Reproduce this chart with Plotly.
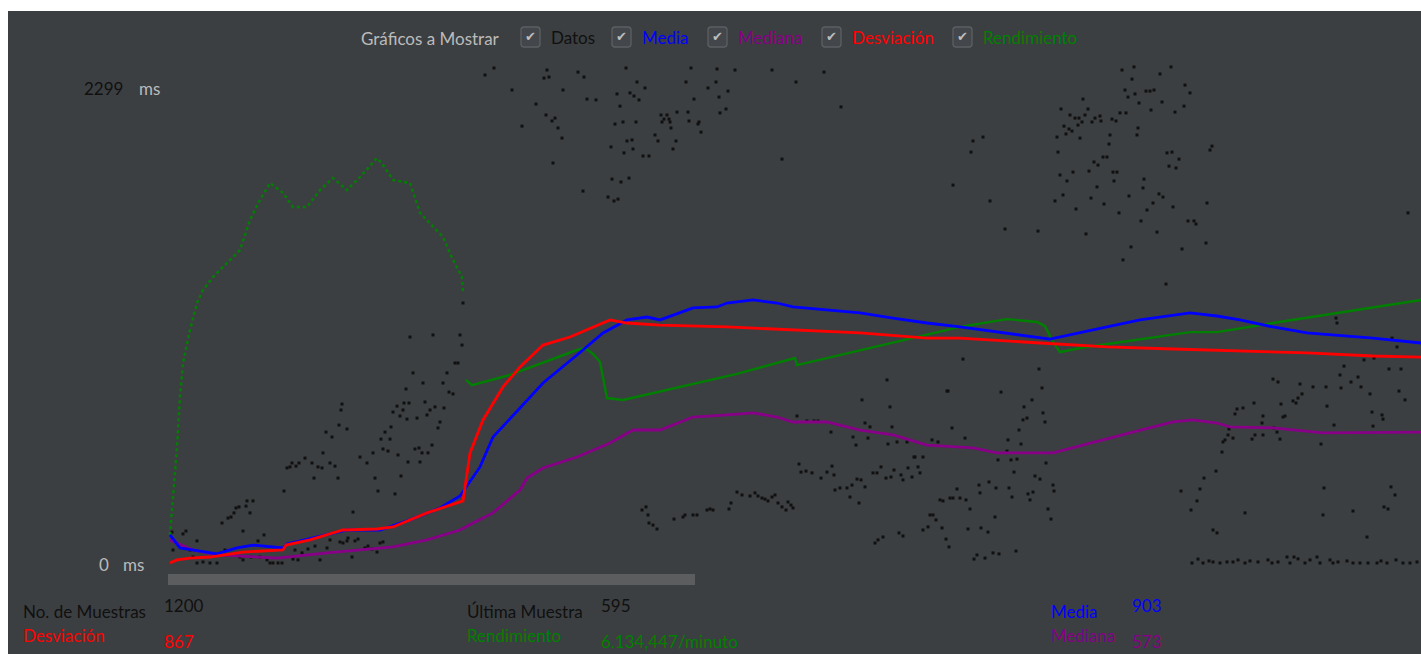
import plotly.graph_objects as go

W, H = 1421, 654
PL, PT = 8, 11          # offset of the dark panel inside the page

# ---------------- data (sample number, milliseconds) ----------------
media_muestra = [2, 12, 49, 69, 85, 102, 115, 119, 145, 179, 212, 242, 272, 292, 312, 325, 352, 375,
                 409, 435, 459, 479, 492, 525, 549, 559, 585, 609, 625, 659, 692, 725, 759, 792, 839,
                 882, 939, 972, 1022, 1049, 1072, 1105, 1139, 1205, 1253]
media_ms = [136, 73, 44, 73, 87, 78, 73, 92, 121, 160, 160, 209, 267, 325, 466, 611, 752, 873,
            1009, 1116, 1179, 1193, 1179, 1237, 1242, 1261, 1276, 1261, 1242, 1227, 1213, 1188, 1164,
            1145, 1116, 1086, 1145, 1179, 1213, 1198, 1179, 1145, 1116, 1091, 1067]

desv_muestra = [2, 9, 22, 42, 75, 115, 118, 142, 175, 209, 225, 259, 295, 302, 315, 335, 352, 375,
                402, 425, 442, 459, 492, 559, 625, 692, 759, 792, 872, 939, 1005, 1072, 1139, 1205, 1253]
desv_ms = [0, 15, 24, 29, 53, 63, 87, 112, 160, 165, 175, 243, 301, 534, 694, 854, 951, 1057,
           1096, 1145, 1179, 1164, 1154, 1145, 1130, 1116, 1091, 1091, 1067, 1048, 1038, 1028, 1019, 1004, 999]

mediana_muestra = [2, 25, 49, 92, 109, 159, 192, 225, 259, 292, 305, 325, 352, 359, 375, 409, 442, 465,
                   492, 525, 559, 585, 609, 625, 659, 692, 725, 759, 805, 829, 885, 922, 962, 1005, 1025,
                   1049, 1062, 1105, 1155, 1253]
mediana_ms = [112, 63, 39, 29, 24, 49, 63, 78, 112, 160, 194, 243, 354, 412, 461, 514, 582, 645,
              645, 708, 718, 728, 708, 684, 684, 645, 621, 572, 558, 534, 534, 582, 631, 684, 694,
              679, 660, 655, 631, 635]

# throughput: first phase (dotted in the original) and the rest of the run
rend1_muestra = [2, 5, 9, 12, 15, 22, 29, 35, 45, 59, 72, 82, 92, 102, 115, 125, 139, 152, 165, 179,
                 192, 209, 215, 225, 242, 252, 265, 275, 285, 294, 295]
rend1_valor = [136, 320, 563, 805, 970, 1130, 1261, 1324, 1387, 1455, 1518, 1664, 1761, 1843, 1795,
               1727, 1727, 1809, 1867, 1809, 1872, 1964, 1930, 1858, 1843, 1698, 1630, 1581, 1470, 1387,
               1310]
rend2_muestra = [298, 304, 342, 409, 417, 425, 432, 439, 455, 569, 627, 629, 792, 839, 869, 877, 884,
                 892, 912, 1022, 1049, 1105, 1253]
rend2_valor = [888, 863, 912, 1033, 1043, 1014, 975, 800, 791, 917, 994, 960, 1145, 1183, 1169, 1149,
               1082, 1023, 1043, 1120, 1120, 1164, 1276]

datos_puntos = [
    # first part of the run
    (4, 150), (5, 63), (15, 141), (18, 155), (22, 63), (29, 107), (25, 29), (29, 0), (35, 5), (42, 0),
    (49, 0), (54, 194), (60, 218), (63, 223), (66, 243), (68, 267), (71, 272), (75, 155), (78, 276),
    (79, 301), (82, 243), (85, 301), (57, 63), (72, 29), (75, 15), (83, 29), (92, 29), (96, 136),
    (90, 107), (99, 15), (102, 0), (105, 0), (110, 0), (114, 0),
    (116, 349), (119, 461), (122, 466), (124, 485), (128, 470), (131, 485), (137, 509), (144, 485),
    (146, 412), (150, 466), (154, 461), (155, 534), (158, 635), (164, 611), (162, 485), (167, 470),
    (170, 412), (171, 669), (173, 742), (174, 771), (179, 650), (185, 247), (192, 514), (199, 485),
    (205, 534), (207, 412), (210, 349), (213, 601), (215, 553), (217, 635), (220, 543), (222, 601),
    (223, 660), (225, 732), (227, 335), (229, 761), (230, 524), (232, 713), (233, 422), (235, 742),
    (236, 776), (238, 844), (239, 698), (241, 776), (240, 490), (242, 1096), (245, 922), (247, 553),
    (249, 703), (251, 558), (252, 490), (254, 534), (255, 873), (257, 781), (259, 718), (260, 534),
    (262, 742), (264, 572), (265, 1106), (267, 757), (270, 655), (272, 684), (275, 873), (276, 752),
    (279, 922), (281, 829), (285, 820), (287, 970), (290, 970), (292, 1106), (294, 1057), (295, 1261),
    (127, 63), (125, 19), (130, 15), (134, 49), (140, 68), (147, 82), (152, 15), (159, 73), (162, 112),
    (172, 102), (175, 97), (179, 107), (180, 121), (184, 29), (187, 107), (190, 116), (197, 73),
    (200, 82), (204, 68), (209, 53), (212, 97), (215, 102),
    # upper cluster 1
    (326, 2401), (317, 2367), (379, 2391), (376, 2352), (381, 2357), (344, 2294), (410, 2381),
    (416, 2357), (395, 2294), (368, 2226), (419, 2250), (428, 2246), (378, 2173), (387, 2158),
    (384, 2144), (354, 2119), (390, 2110), (394, 2061), (385, 1940), (458, 2401), (469, 2333),
    (477, 2304), (449, 2275), (462, 2280), (466, 2265), (471, 2246), (452, 2216), (447, 2129),
    (455, 2139), (468, 2139), (493, 2173), (499, 2173), (496, 2153), (501, 2153), (494, 2139),
    (502, 2139), (503, 2110), (509, 2187), (487, 2076), (490, 2047), (508, 2047), (505, 2008),
    (459, 2047), (464, 2052), (443, 2018), (465, 2008), (456, 1989), (475, 1974), (481, 1974),
    (444, 1862), (453, 1848), (461, 1867), (415, 1804), (440, 1775), (446, 1756), (450, 1765),
    (523, 2401), (518, 2333), (526, 2250), (520, 2187), (521, 2144), (530, 2129), (531, 2139),
    (533, 2090), (549, 2396), (548, 2333), (540, 2304), (551, 2260), (560, 2289), (558, 2202),
    (552, 2183), (567, 2391), (604, 2391), (628, 2333), (614, 1959), (656, 2381), (673, 2212),
    # lower middle
    (474, 257), (478, 272), (480, 233), (481, 194), (485, 184), (489, 165), (506, 213), (515, 223),
    (517, 233), (525, 233), (529, 233), (539, 257), (542, 262), (545, 257), (561, 262), (563, 291),
    (569, 344), (574, 330), (582, 325), (587, 340), (590, 325), (594, 315), (597, 310), (600, 301),
    (604, 320), (607, 330), (610, 291), (614, 272), (618, 257), (620, 296), (623, 281), (625, 267),
    (629, 713), (639, 689), (646, 689), (650, 689), (663, 635), (685, 611), (688, 572), (697, 679),
    (702, 660), (700, 606), (724, 660), (720, 577), (729, 587), (739, 587), (747, 514), (755, 514),
    (764, 597), (770, 587), (719, 888), (694, 791), (722, 757), (780, 834),
    (631, 480), (633, 441), (638, 446), (644, 437), (653, 412), (659, 441), (664, 470), (666, 427),
    (667, 354), (672, 364), (679, 364), (682, 320), (684, 378), (691, 291), (689, 407), (697, 369),
    (693, 403), (705, 437), (709, 437), (713, 466), (718, 412), (723, 417), (726, 451), (733, 427),
    (735, 403), (740, 461), (744, 417), (746, 514), (750, 466), (752, 437),
    (707, 97), (710, 112), (715, 126), (731, 146), (735, 131), (755, 160), (760, 175), (762, 233),
    (765, 233), (768, 209), (772, 306), (782, 315),
    # middle right
    (795, 989), (779, 834), (833, 829), (871, 941), (874, 849), (864, 791), (856, 757), (859, 703),
    (855, 694), (851, 645), (875, 728), (877, 684), (784, 655), (797, 606), (840, 597), (853, 577),
    (839, 543), (830, 500), (843, 500), (849, 504), (878, 485), (846, 441), (867, 422), (872, 407),
    (821, 393), (811, 378), (812, 340), (828, 364), (841, 364), (789, 359), (792, 315), (785, 315),
    (798, 306), (775, 301), (844, 320), (860, 335), (865, 344), (862, 306), (885, 378), (886, 349),
    (802, 262), (827, 223), (880, 262), (883, 213), (774, 170), (800, 165), (813, 170), (820, 150),
    (778, 116), (781, 78), (848, 58), (806, 19), (809, 39), (817, 24), (825, 49), (831, 44),
    (815, 2066), (805, 2047), (803, 1993), (785, 1833), (822, 1756), (837, 1620), (870, 1610),
    # upper cluster 2
    (954, 2391), (966, 2406), (1003, 2406), (992, 2372), (964, 2347), (957, 2294), (960, 2260),
    (967, 2275), (978, 2289), (982, 2289), (986, 2294), (971, 2231), (994, 2236), (983, 2197),
    (1017, 2318), (1022, 2280), (1016, 2216), (1007, 2187), (915, 2250), (893, 2202), (920, 2202),
    (902, 2173), (907, 2158), (911, 2158), (917, 2173), (927, 2158), (932, 2168), (933, 2144),
    (924, 2139), (914, 2139), (910, 2124), (944, 2153), (948, 2144), (952, 2183), (958, 2183),
    (896, 2119), (901, 2105), (904, 2095), (898, 2081), (889, 2066), (912, 2061), (942, 2076),
    (941, 2032), (970, 2110), (969, 2076), (890, 1993), (935, 1969), (939, 1969), (926, 1945),
    (930, 1930), (921, 1901), (905, 1896), (892, 1882), (899, 1853), (945, 1896), (949, 1896),
    (946, 1853), (929, 1824), (895, 1785), (887, 1756), (923, 1770), (908, 1717), (936, 1741),
    (951, 1698), (961, 1780), (976, 1862), (975, 1819), (991, 1790), (995, 1775), (985, 1746),
    (979, 1712), (1005, 1727), (973, 1659), (989, 1605), (1020, 1659), (1026, 1659), (1028, 1644),
    (1039, 1746), (999, 1989), (1004, 1993), (1011, 1959), (1001, 1925), (1008, 1916), (1044, 2022),
    (1042, 2003), (1038, 1552), (1014, 1523), (963, 1533), (955, 1470), (998, 1353), (918, 1596),
    (1240, 1698),
    # right part
    (1105, 892), (1110, 878), (1132, 868), (1134, 820), (1145, 854), (1158, 854), (1173, 849),
    (1183, 878), (1190, 902), (1193, 854), (1172, 912), (1176, 955), (1196, 985), (1206, 994),
    (1221, 941), (1233, 941), (1168, 1188), (1169, 1164), (1224, 1091), (1229, 1048), (1231, 834),
    (1237, 791), (1202, 820), (1159, 761), (1113, 771), (1130, 800), (1128, 776), (1125, 786),
    (1115, 708), (1117, 713), (1095, 713), (1094, 679), (1086, 776), (1075, 752), (1069, 747),
    (1067, 723), (1106, 655), (1109, 635), (1112, 601), (1166, 669), (1205, 664), (1204, 732),
    (1214, 718), (1215, 698), (1153, 577), (1061, 650), (1065, 606), (1060, 621), (1055, 587),
    (1057, 597), (1095, 621), (1087, 621), (1084, 601), (1054, 538), (1048, 446), (1036, 412),
    (1032, 359), (1029, 301), (1013, 349), (1023, 257), (1045, 160), (1049, 146), (1077, 243),
    (1156, 364), (1155, 233), (1185, 252), (1199, 126), (1223, 369), (1227, 330), (1216, 272),
    (1220, 262),
    # near zero at the end
    (1024, 0), (1030, 19), (1035, 0), (1041, 10), (1045, 5), (1052, 0), (1059, 5), (1065, 5),
    (1070, 15), (1077, 0), (1082, 10), (1090, 5), (1100, 15), (1104, 0), (1110, 5), (1119, 29),
    (1122, 0), (1126, 29), (1130, 20), (1137, 0), (1142, 15), (1149, 29), (1152, 0), (1162, 15),
    (1165, 0), (1170, 5), (1179, 10), (1185, 0), (1192, 0), (1200, 0), (1209, 0), (1213, 10),
    (1219, 0), (1228, 15), (1235, 0), (1242, 0), (1249, 5),
]

escala_max = 2299
num_muestras = 1200
ultima_muestra = 595
media_final = 903
mediana_final = 573
desviacion_final = 867
rendimiento_texto = "6.134,447/minuto"

# ---------------- colours ----------------
BG = "#3c3f41"
C_TXT = "#bbbbbb"
C_BLACK = "#101010"
C_BLUE = "#0000ff"
C_PURPLE = "#870087"
C_RED = "#ff0000"
C_GREEN = "#008000"
FONT = "Lato"
FS = 17

fig = go.Figure()

dx = [p[0] for p in datos_puntos]
dy = [p[1] for p in datos_puntos]
fig.add_trace(go.Scatter(x=dx, y=dy, mode="markers",
                         marker=dict(symbol="square", size=3, color=C_BLACK, line=dict(width=0)),
                         hoverinfo="skip"))
fig.add_trace(go.Scatter(x=rend1_muestra, y=rend1_valor, mode="lines",
                         line=dict(color=C_GREEN, width=2.4, dash="dot"), hoverinfo="skip"))
fig.add_trace(go.Scatter(x=rend2_muestra, y=rend2_valor, mode="lines",
                         line=dict(color=C_GREEN, width=2.4), hoverinfo="skip"))
fig.add_trace(go.Scatter(x=mediana_muestra, y=mediana_ms, mode="lines",
                         line=dict(color=C_PURPLE, width=2.8), hoverinfo="skip"))
fig.add_trace(go.Scatter(x=media_muestra, y=media_ms, mode="lines",
                         line=dict(color=C_BLUE, width=2.8), hoverinfo="skip"))
fig.add_trace(go.Scatter(x=desv_muestra, y=desv_ms, mode="lines",
                         line=dict(color=C_RED, width=2.8), hoverinfo="skip"))

# axes: sample 0 at page x=168, 0 ms at page y=563, 2299 ms at page y=89
k = escala_max / 474.0
fig.update_xaxes(range=[-160, 1253], visible=False, fixedrange=True)
fig.update_yaxes(range=[-(H - 563) * k, (563 - PT) * k], visible=False, fixedrange=True)


def fx(px):
    return (px - PL) / (W - PL)


def fy(py):
    return (H - py) / (H - PT)


ann = []


def text(t, x, y, color, size=FS):
    ann.append(dict(text=t, x=fx(x), y=fy(y), xref="paper", yref="paper", xanchor="left",
                    yanchor="middle", showarrow=False, font=dict(family=FONT, size=size, color=color)))


def rounded_box(x0, y0, x1, y1, r):
    pts = (f"M {fx(x0 + r)},{fy(y0)} L {fx(x1 - r)},{fy(y0)} Q {fx(x1)},{fy(y0)} {fx(x1)},{fy(y0 + r)} "
           f"L {fx(x1)},{fy(y1 - r)} Q {fx(x1)},{fy(y1)} {fx(x1 - r)},{fy(y1)} "
           f"L {fx(x0 + r)},{fy(y1)} Q {fx(x0)},{fy(y1)} {fx(x0)},{fy(y1 - r)} "
           f"L {fx(x0)},{fy(y0 + r)} Q {fx(x0)},{fy(y0)} {fx(x0 + r)},{fy(y0)} Z")
    return dict(type="path", xref="paper", yref="paper", path=pts,
                line=dict(color="#5c5f62", width=1.3), fillcolor="#43464a")


# header with check boxes
text("Gráficos a Mostrar", 359, 39, C_TXT)
checks = [(521, "Datos", C_BLACK), (612, "Media", C_BLUE), (708, "Mediana", C_PURPLE),
          (822, "Desviación", C_RED), (953, "Rendimiento", C_GREEN)]
shapes = []
for cx, lab, col in checks:
    shapes.append(rounded_box(cx, 27, cx + 19, 47, 3))
    ann.append(dict(text="✔", x=fx(cx + 9.5), y=fy(37), xref="paper", yref="paper",
                    xanchor="center", yanchor="middle", showarrow=False,
                    font=dict(family="DejaVu Sans", size=13, color="#bdbdbd")))
    text(lab, cx + 28, 38, col)

# y scale labels
text(str(escala_max), 82, 89, C_BLACK)
text("ms", 137, 89, C_TXT)
text("0", 97, 564, C_TXT)
text("ms", 121, 564, C_TXT)

# bottom statistics
text("No. de Muestras", 21, 611, C_BLACK)
text(str(num_muestras), 162, 605, C_BLACK)
text("Desviación", 21, 635, C_RED)
text(str(desviacion_final), 162, 641, C_RED)
text("Última Muestra", 465, 611, C_BLACK)
text(str(ultima_muestra), 599, 605, C_BLACK)
text("Rendimiento", 465, 635, C_GREEN)
text(rendimiento_texto, 599, 641, C_GREEN)
text("Media", 1049, 611, C_BLUE)
text(str(media_final), 1130, 605, C_BLUE)
text("Mediana", 1049, 635, C_PURPLE)
text(str(mediana_final), 1130, 641, C_PURPLE)

# grey bar under the graph
shapes.append(dict(type="rect", xref="paper", yref="paper", x0=fx(168), x1=fx(695),
                   y0=fy(585), y1=fy(574), line=dict(width=0), fillcolor="#5b5d5f", layer="below"))

fig.update_layout(width=W, height=H, margin=dict(l=PL, r=0, t=PT, b=0),
                  paper_bgcolor="white", plot_bgcolor=BG, showlegend=False,
                  annotations=ann, shapes=shapes, hovermode=False)

fig.write_html("out.html", config={"displayModeBar": False})
